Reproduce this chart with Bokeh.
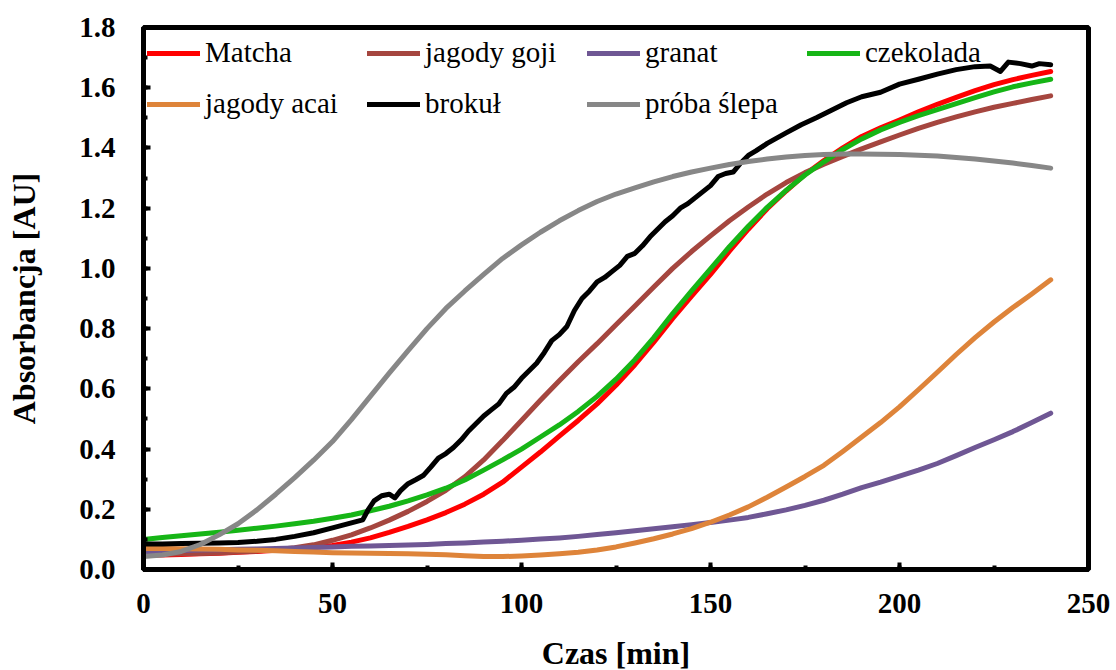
from bokeh.plotting import figure
from bokeh.models import (Legend, LegendItem, SingleIntervalTicker, NumeralTickFormatter,
                          Range1d)
from bokeh.embed import file_html
from bokeh.resources import INLINE

# ---- data ----
t = [0, 5, 10, 15, 20, 25, 30, 35, 40, 45, 50, 55, 60, 65, 70, 75, 80, 85, 90, 95,
     100, 105, 110, 115, 120, 125, 130, 135, 140, 145, 150, 155, 160, 165, 170,
     175, 180, 185, 190, 195, 200, 205, 210, 215, 220, 225, 230, 235, 240]

matcha = [0.047, 0.048, 0.050, 0.052, 0.054, 0.057, 0.060, 0.064, 0.068, 0.074,
          0.080, 0.091, 0.105, 0.123, 0.143, 0.165, 0.189, 0.217, 0.250, 0.290,
          0.340, 0.390, 0.443, 0.495, 0.550, 0.612, 0.680, 0.755, 0.834, 0.908,
          0.980, 1.057, 1.130, 1.198, 1.257, 1.312, 1.358, 1.400, 1.438, 1.467,
          1.493, 1.520, 1.545, 1.568, 1.590, 1.610, 1.627, 1.641, 1.654]
goji = [0.050, 0.051, 0.052, 0.053, 0.055, 0.058, 0.061, 0.066, 0.072, 0.082,
        0.097, 0.115, 0.138, 0.164, 0.193, 0.226, 0.263, 0.308, 0.364, 0.428,
        0.495, 0.562, 0.627, 0.690, 0.750, 0.813, 0.875, 0.938, 1.000, 1.056,
        1.108, 1.158, 1.204, 1.247, 1.285, 1.318, 1.346, 1.372, 1.397, 1.420,
        1.443, 1.465, 1.485, 1.503, 1.520, 1.535, 1.548, 1.561, 1.573]
granat = [0.059, 0.061, 0.063, 0.065, 0.066, 0.067, 0.068, 0.070, 0.071, 0.073,
          0.075, 0.077, 0.078, 0.080, 0.081, 0.083, 0.086, 0.088, 0.091, 0.094,
          0.097, 0.101, 0.105, 0.110, 0.116, 0.122, 0.129, 0.135, 0.142, 0.149,
          0.156, 0.164, 0.173, 0.185, 0.198, 0.213, 0.230, 0.250, 0.272, 0.290,
          0.310, 0.330, 0.352, 0.378, 0.405, 0.431, 0.458, 0.488, 0.519]
czekolada = [0.100, 0.106, 0.112, 0.118, 0.124, 0.130, 0.137, 0.144, 0.152, 0.160,
             0.170, 0.181, 0.195, 0.210, 0.228, 0.248, 0.270, 0.297, 0.330, 0.364,
             0.400, 0.440, 0.480, 0.525, 0.575, 0.632, 0.697, 0.770, 0.850, 0.925,
             0.998, 1.072, 1.140, 1.203, 1.259, 1.310, 1.354, 1.395, 1.430, 1.460,
             1.485, 1.507, 1.527, 1.547, 1.567, 1.586, 1.603, 1.616, 1.628]
acai = [0.070, 0.070, 0.069, 0.068, 0.067, 0.065, 0.064, 0.062, 0.060, 0.058,
        0.056, 0.055, 0.054, 0.053, 0.052, 0.051, 0.049, 0.046, 0.043, 0.043,
        0.045, 0.048, 0.052, 0.057, 0.065, 0.075, 0.088, 0.102, 0.118, 0.136,
        0.157, 0.181, 0.208, 0.240, 0.274, 0.309, 0.346, 0.392, 0.440, 0.488,
        0.540, 0.597, 0.655, 0.714, 0.770, 0.822, 0.870, 0.915, 0.962]
blank = [0.043, 0.048, 0.060, 0.083, 0.115, 0.152, 0.198, 0.250, 0.305, 0.363,
         0.425, 0.498, 0.575, 0.652, 0.727, 0.800, 0.867, 0.925, 0.980, 1.033,
         1.078, 1.120, 1.158, 1.192, 1.222, 1.247, 1.267, 1.287, 1.305, 1.320,
         1.333, 1.345, 1.355, 1.363, 1.370, 1.375, 1.378, 1.380, 1.380, 1.379,
         1.378, 1.376, 1.373, 1.368, 1.363, 1.357, 1.350, 1.342, 1.333]

t_brokul = [0, 5, 10, 15, 20, 25, 30, 35, 40, 45, 50, 55, 58, 59.5, 61, 63, 65,
            66.5, 68, 70, 72, 74, 76, 78, 80, 82, 84, 86, 88, 90, 92, 94, 96, 98,
            100, 102, 104, 106, 108, 110, 112, 114, 116, 118, 120, 122, 124, 126,
            128, 130, 132, 134, 136, 138, 140, 142, 144, 146, 148, 150, 152, 154,
            156, 158, 160, 162, 165, 170, 174, 178, 182, 186, 190, 195, 200, 205,
            210, 215, 220, 224, 226.7, 228.8, 232, 235, 237, 240]
brokul = [0.085, 0.085, 0.086, 0.087, 0.088, 0.090, 0.094, 0.100, 0.110, 0.122,
          0.138, 0.155, 0.165, 0.200, 0.228, 0.245, 0.250, 0.238, 0.262, 0.285,
          0.298, 0.312, 0.340, 0.370, 0.385, 0.405, 0.430, 0.460, 0.485, 0.510,
          0.530, 0.550, 0.585, 0.605, 0.635, 0.660, 0.685, 0.720, 0.760, 0.780,
          0.807, 0.860, 0.900, 0.925, 0.955, 0.970, 0.990, 1.010, 1.040, 1.050,
          1.075, 1.105, 1.130, 1.155, 1.175, 1.200, 1.215, 1.235, 1.255, 1.275,
          1.305, 1.315, 1.320, 1.350, 1.375, 1.390, 1.415, 1.450, 1.477, 1.500,
          1.525, 1.550, 1.570, 1.585, 1.612, 1.628, 1.645, 1.660, 1.670, 1.672,
          1.654, 1.685, 1.680, 1.672, 1.680, 1.676]

labels = ["Matcha", "jagody goji", "granat", "czekolada", "jagody acai", "brokuł",
          "próba ślepa"]
colors = ["#FF0000", "#A5463F", "#6F5794", "#16B516", "#DE843A", "#000000", "#878787"]

FONT = "Liberation Serif"

p = figure(frame_width=945, frame_height=542, output_backend="svg",
           toolbar_location=None, x_range=Range1d(0, 250), y_range=Range1d(0, 1.8),
           min_border_left=143, min_border_right=28, min_border_top=27,
           min_border_bottom=100)
p.background_fill_color = "white"
p.border_fill_color = "white"
p.xgrid.visible = False
p.ygrid.visible = False
p.outline_line_color = "black"
p.outline_line_width = 5

series = [(t, matcha), (t, goji), (t, granat), (t, czekolada), (t, acai),
          (t_brokul, brokul), (t, blank)]
renderers = []
for (xs, ys), c in zip(series, colors):
    r = p.line(xs, ys, line_color=c, line_width=5, line_cap="round",
               line_join="round")
    renderers.append(r)

# axes
p.xaxis.ticker = SingleIntervalTicker(interval=50, num_minor_ticks=2)
p.yaxis.ticker = SingleIntervalTicker(interval=0.2, num_minor_ticks=2)
p.yaxis.formatter = NumeralTickFormatter(format="0.0")
for ax in (p.xaxis[0], p.yaxis[0]):
    ax.axis_line_width = 5
    ax.axis_line_color = "black"
    ax.major_tick_in = 7
    ax.major_tick_out = 0
    ax.minor_tick_in = 4
    ax.minor_tick_out = 0
    ax.major_tick_line_width = 4
    ax.minor_tick_line_width = 4
    ax.major_label_text_font = FONT
    ax.major_label_text_font_style = "bold"
    ax.major_label_text_font_size = "29px"
    ax.major_label_text_color = "black"
    ax.axis_label_text_font = FONT
    ax.axis_label_text_font_style = "bold"
    ax.axis_label_text_font_size = "32px"
    ax.axis_label_text_color = "black"
p.xaxis.axis_label = "Czas [min]"
p.yaxis.axis_label = "Absorbancja [AU]"
p.xaxis.major_label_standoff = 24
p.yaxis.major_label_standoff = 28
p.xaxis.axis_label_standoff = 19
p.yaxis.axis_label_standoff = 34

# legend: two rows, aligned columns
def make_legend(items, y):
    lg = Legend(items=items, orientation="horizontal", location=(4, y),
                label_text_font=FONT, label_text_font_size="29px",
                label_text_color="black", glyph_width=53, glyph_height=30,
                label_height=30, label_width=157, label_standoff=5, spacing=5,
                padding=0, margin=0, border_line_alpha=0,
                background_fill_alpha=0)
    return lg

row1 = [LegendItem(label=labels[i], renderers=[renderers[i]]) for i in range(4)]
row2 = [LegendItem(label=labels[i], renderers=[renderers[i]]) for i in range(4, 7)]
p.add_layout(make_legend(row1, 500), "center")
p.add_layout(make_legend(row2, 449), "center")

open("out.html", "w").write(file_html(p, INLINE))
